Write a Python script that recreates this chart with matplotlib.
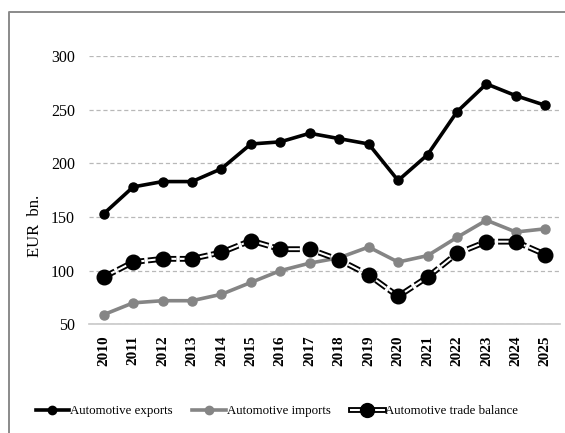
import matplotlib
matplotlib.use("Agg")
import matplotlib.pyplot as plt
from matplotlib.lines import Line2D
from matplotlib.legend_handler import HandlerTuple

plt.rcParams['font.family'] = ['Liberation Serif', 'DejaVu Serif']
plt.rcParams['lines.scale_dashes'] = False

years = [str(y) for y in range(2010, 2026)]
exports = [153, 178, 183, 183, 195, 218, 220, 228, 223, 218, 184, 208, 248, 274, 263, 254]
imports = [59, 70, 72, 72, 78, 89, 100, 107, 112, 122, 108, 114, 131, 147, 136, 139]
balance = [94, 108, 111, 111, 117, 128, 120, 120, 110, 96, 76, 94, 116, 127, 127, 115]

fig = plt.figure(figsize=(5.65, 4.33), dpi=100)
ax = fig.add_axes([0.1575, 0.251, 0.8337, 0.6197])
x = list(range(len(years)))

gray = '#858585'
ax.plot(x, exports, color='black', lw=2.6, marker='o', ms=6.5, zorder=4)
ax.plot(x, imports, color=gray, lw=2.6, marker='o', ms=6.5, zorder=3)

# double dashed line for the balance: thick black dashes with a white core
ax.plot(x, balance, color='black', lw=4.2, dashes=(9, 2.5), zorder=5)
ax.plot(x, balance, color='white', lw=1.5, dashes=(9, 2.5), zorder=6)
ax.plot(x, balance, ls='none', marker='o', color='black', ms=10.5, zorder=7)

ax.set_xlim(-0.5, len(years) - 0.5)
ax.set_ylim(50, 300)
ax.set_yticks(range(50, 301, 50))
ax.set_xticks(x)
ax.set_xticklabels(years, rotation=90, fontweight='bold', fontsize=11)
ax.tick_params(axis='y', labelsize=11.5, length=0, pad=10)
ax.tick_params(axis='x', length=0, pad=8)

ax.yaxis.grid(True, color='#b8b8b8', ls=(0, (3, 2)), lw=0.9)
ax.set_axisbelow(True)
for side in ('left', 'right', 'top'):
    ax.spines[side].set_visible(False)
ax.spines['bottom'].set_color('#c8c8c8')
ax.spines['bottom'].set_linewidth(1.2)

fig.text(35 / 565, 1 - 226 / 433, 'EUR  bn.', rotation=90, fontsize=12,
         ha='center', va='center')

# outer frame (top and left edges)
fig.add_artist(Line2D([9 / 565, 9 / 565, 1.0], [0.0, 1 - 12 / 433, 1 - 12 / 433],
                      transform=fig.transFigure, color='#8a8a8a', lw=1.4))

h_exp = Line2D([], [], color='black', lw=2.6, marker='o', ms=6)
h_imp = Line2D([], [], color=gray, lw=2.6, marker='o', ms=6)
h_bal = (Line2D([], [], color='black', lw=4.2),
         Line2D([], [], color='white', lw=1.5),
         Line2D([], [], ls='none', marker='o', color='black', ms=10))
fig.legend([h_exp, h_imp, h_bal],
           ['Automotive exports', 'Automotive imports', 'Automotive trade balance'],
           handler_map={tuple: HandlerTuple(ndivide=1)},
           loc='center', bbox_to_anchor=(277 / 565, 1 - 411 / 433), ncol=3,
           frameon=False, fontsize=9.3, handlelength=2.6, handletextpad=0.1,
           columnspacing=1.5)

fig.savefig('out.png', dpi=100)
